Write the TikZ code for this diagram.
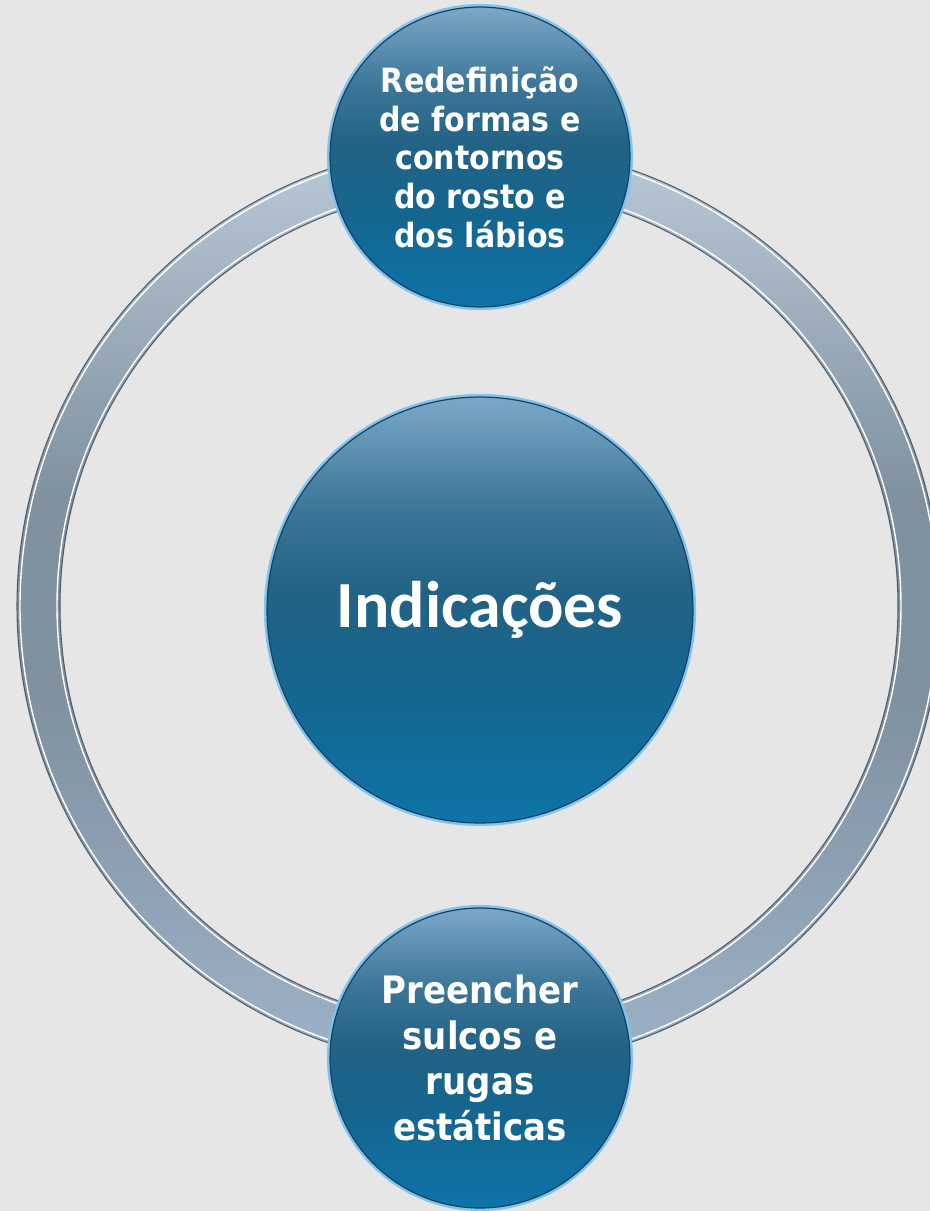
\documentclass[tikz,border=0pt]{standalone}
\usepackage{fontspec}
\setmainfont{Carlito}
\newfontfamily\bubblefont{DejaVu Sans Condensed}
\definecolor{PageGray}{RGB}{230,230,230}
\definecolor{RingEdge}{RGB}{80,92,104}
\definecolor{RingTop}{RGB}{186,202,216}
\definecolor{RingMid}{RGB}{128,145,160}
\definecolor{RingBot}{RGB}{158,178,200}
\definecolor{BallEdge}{RGB}{22,66,100}
\definecolor{BallGlow}{RGB}{130,196,238}
\definecolor{BallTop}{RGB}{124,168,200}
\definecolor{BallUpper}{RGB}{60,118,152}
\definecolor{BallMid}{RGB}{34,98,132}
\definecolor{BallLower}{RGB}{20,102,144}
\definecolor{BallBot}{RGB}{14,116,168}
\pgfdeclareverticalshading{ballshade}{100bp}{
  color(0bp)=(BallBot); color(25bp)=(BallBot);
  color(40bp)=(BallLower); color(52bp)=(BallMid);
  color(62bp)=(BallUpper); color(75bp)=(BallTop);
  color(100bp)=(BallTop)}
\pgfdeclareverticalshading{ringshade}{100bp}{
  color(0bp)=(RingBot); color(25bp)=(RingBot);
  color(45bp)=(RingMid); color(56bp)=(RingMid);
  color(75bp)=(RingTop); color(100bp)=(RingTop)}

\begin{document}
\begin{tikzpicture}[x=0.02cm,y=-0.02cm]
\tikzset{
  ball/.style={circle, draw=BallEdge, line width=0.7pt, shading=ballshade,
    preaction={draw=BallGlow, line width=3.5pt},
    text=white, align=center, inner sep=0pt},
  smallball/.style={ball, minimum size=6cm,
    font=\bubblefont\bfseries\fontsize{19}{22}\selectfont},
  bigball/.style={ball, minimum size=8.52cm,
    font=\bfseries\fontsize{37.5}{44}\selectfont}
}

% Background
\useasboundingbox (0,0) rectangle (930,1211);
\clip (0,0) rectangle (930,1211);
\fill[PageGray] (0,0) rectangle (930,1211);

% Ring
\coordinate (hub) at (479,606);
\path[even odd rule, shading=ringshade] (hub) circle (462) (hub) circle (419);
\draw[RingEdge, line width=0.6pt] (hub) circle (462) (hub) circle (419);
\draw[white, line width=0.8pt] (hub) circle (459) (hub) circle (422);

% Circles
\node[bigball] (indic) at (480,610) {Indicações};
\node[smallball] (redef) at (480,157) {Redefinição\\de formas e\\contornos\\do rosto e\\dos lábios};
\node[smallball, font=\bubblefont\bfseries\fontsize{21.5}{26}\selectfont] (sulcos) at (480,1058) {Preencher\\sulcos e\\rugas\\estáticas};

\end{tikzpicture}
\end{document}
